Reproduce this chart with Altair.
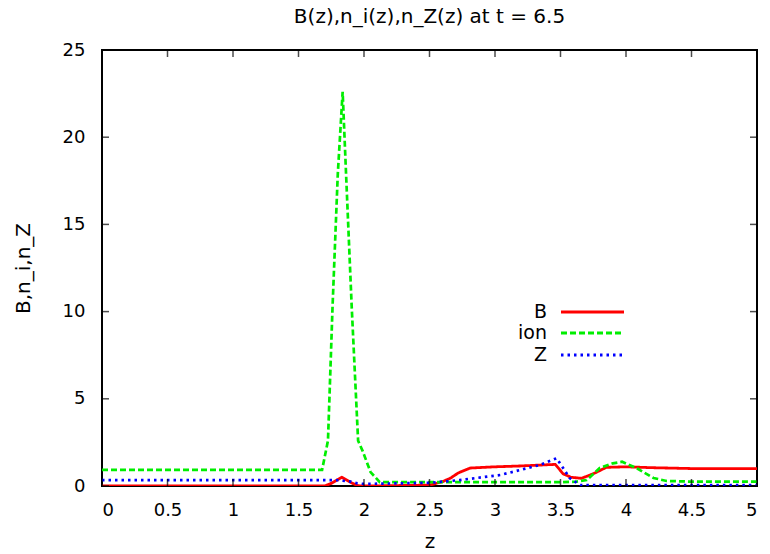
import altair as alt
import pandas as pd

# ---- data ----
B_z = [0, 1.70, 1.75, 1.83, 1.90, 1.95, 2.0, 2.5, 2.6, 2.66, 2.72, 2.81, 3.0, 3.2, 3.46, 3.52, 3.58, 3.66, 3.75, 3.85, 4.0, 4.2, 4.5, 5.0]
B_v = [0, 0, 0.15, 0.5, 0.2, 0.02, 0, 0.05, 0.25, 0.45, 0.75, 1.03, 1.1, 1.15, 1.24, 0.7, 0.5, 0.44, 0.7, 1.07, 1.1, 1.05, 1.0, 1.0]

ion_z = [0, 1.68, 1.725, 1.76, 1.80, 1.837, 1.863, 1.906, 1.955, 1.99, 2.05, 2.12, 3.5, 3.62, 3.70, 3.80, 3.90, 3.97, 4.08, 4.21, 4.31, 4.5, 5.0]
ion_v = [0.92, 0.92, 2.6, 10.3, 17.9, 22.6, 17.9, 10.3, 2.6, 2.0, 0.8, 0.22, 0.22, 0.25, 0.34, 1.03, 1.3, 1.39, 1.03, 0.46, 0.29, 0.25, 0.25]

Z_z = [0, 1.70, 1.80, 1.90, 1.95, 2.0, 2.5, 2.73, 3.04, 3.34, 3.47, 3.52, 3.57, 3.65, 5.0]
Z_v = [0.34, 0.34, 0.33, 0.25, 0.15, 0.12, 0.18, 0.34, 0.63, 1.2, 1.59, 1.03, 0.45, 0.05, 0.05]

x_ticks = [0, 0.5, 1, 1.5, 2, 2.5, 3, 3.5, 4, 4.5, 5]
y_ticks = [0, 5, 10, 15, 20, 25]

legend_labels = ["B", "ion", "Z"]
colors = ["#ff0000", "#00ee00", "#0000ff"]
dashes = [[1, 0], [6, 3], [2.5, 4]]

FONT = "DejaVu Sans"
W, H = 655, 436

xs = alt.Scale(domain=[0, 5], nice=False, zero=False)
ys = alt.Scale(domain=[0, 25], nice=False)

x_axis = alt.Axis(values=x_ticks, format="~g", grid=False, ticks=False, domain=False,
                  labelFontSize=18, labelFont=FONT, labelPadding=15, labelColor="black",
                  title="z", titleFontSize=20, titleFont=FONT, titleFontWeight="normal",
                  titlePadding=12, titleColor="black")
y_axis = alt.Axis(values=y_ticks, format="~g", grid=False, ticks=False, domain=False,
                  labelFontSize=18, labelFont=FONT, labelPadding=17, labelColor="black",
                  title="B,n_i,n_Z", titleFontSize=20, titleFont=FONT, titleFontWeight="normal",
                  titlePadding=29, titleColor="black")

layers = []
series = [(B_z, B_v), (ion_z, ion_v), (Z_z, Z_v)]
for i, (zz, vv) in enumerate(series):
    df = pd.DataFrame({"z": zz, "v": vv})
    layers.append(
        alt.Chart(df).mark_line(color=colors[i], strokeWidth=2.8 if i == 0 else 2.7,
                                strokeDash=dashes[i], clip=True)
        .encode(x=alt.X("z:Q", scale=xs, axis=x_axis), y=alt.Y("v:Q", scale=ys, axis=y_axis))
    )

# inward ticks on all four sides
xt = pd.DataFrame({"z": x_ticks})
yt = pd.DataFrame({"v": y_ticks})
TL = 7
for yd, off in [(0, -TL / 2), (25, TL / 2)]:
    layers.append(alt.Chart(xt).mark_tick(orient="vertical", color="black", size=TL, thickness=1.5, yOffset=off)
                  .encode(x=alt.X("z:Q", scale=xs, axis=x_axis), y=alt.datum(yd, scale=ys, axis=y_axis)))
for xd, off in [(0, TL / 2), (5, -TL / 2)]:
    layers.append(alt.Chart(yt).mark_tick(orient="horizontal", color="black", size=TL, thickness=1.5, xOffset=off)
                  .encode(y=alt.Y("v:Q", scale=ys, axis=y_axis), x=alt.datum(xd, scale=xs, axis=x_axis)))

# legend (gnuplot style: label left, line sample right)
leg_y = [262, 283, 305]
for i, lab in enumerate(legend_labels):
    layers.append(alt.Chart(pd.DataFrame({"a": [0]})).mark_rule(color=colors[i], strokeWidth=3, strokeDash=dashes[i])
                  .encode(x=alt.value(459), x2=alt.value(522), y=alt.value(leg_y[i])))
    layers.append(alt.Chart(pd.DataFrame({"a": [0]})).mark_text(align="right", baseline="middle", fontSize=19, font=FONT, color="black")
                  .encode(x=alt.value(445), y=alt.value(leg_y[i]), text=alt.value(lab)))

chart = alt.layer(*layers).properties(
    width=W, height=H,
    title=alt.TitleParams("B(z),n_i(z),n_Z(z) at t = 6.5", fontSize=20, font=FONT, fontWeight="normal",
                          color="black", anchor="middle", offset=14),
    autosize=alt.AutoSizeParams(type="none"),
    padding={"left": 102, "top": 50, "right": 13, "bottom": 68},
).configure_view(stroke="black", strokeWidth=2)

chart.save("out.html", embed_options={"renderer": "svg", "actions": False})
